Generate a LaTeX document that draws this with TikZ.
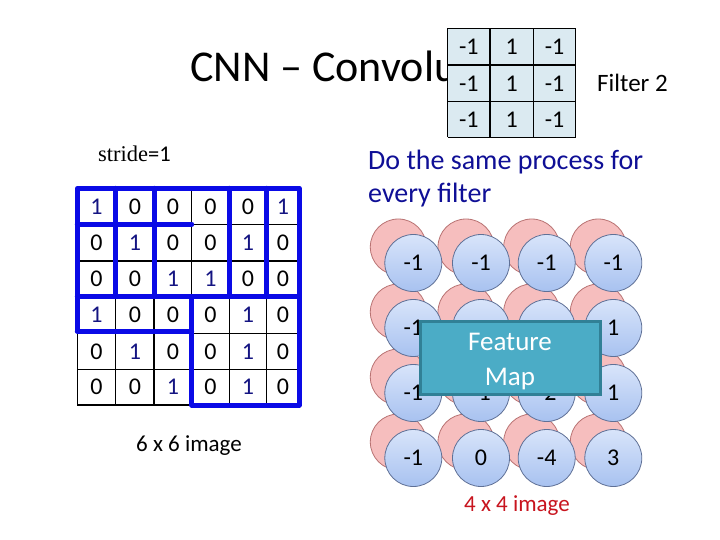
\documentclass[tikz,border=0pt]{standalone}
\usepackage{fontspec}
\setmainfont{Carlito}
\newfontfamily\serifface{Liberation Serif}
\definecolor{navyone}{RGB}{20,20,130}
\definecolor{barblue}{RGB}{10,10,230}
\definecolor{filterfill}{RGB}{219,234,241}
\definecolor{bluetop}{RGB}{216,228,250}
\definecolor{bluebot}{RGB}{168,194,240}
\definecolor{blueedge}{RGB}{95,112,150}
\definecolor{pinkfill}{RGB}{246,190,190}
\definecolor{pinkedge}{RGB}{185,115,115}
\definecolor{fmfill}{RGB}{75,172,198}
\definecolor{fmedge}{RGB}{49,128,150}
\definecolor{dotext}{RGB}{15,15,150}
\definecolor{redtext}{RGB}{200,20,30}
\tikzset{
  gridline/.style={black, line width=1.3pt},
  bluebar/.style={barblue, line width=5pt, line cap=round, line join=round},
  cellnum/.style={inner sep=0pt, font=\fontsize{24}{28}\selectfont},
  pinkcirc/.style={circle, minimum size=56pt, inner sep=0pt, fill=pinkfill, draw=pinkedge, line width=0.8pt},
  bluecirc/.style={circle, minimum size=57pt, inner sep=0pt, top color=bluetop, bottom color=bluebot, draw=blueedge, line width=0.8pt},
}
\begin{document}
\begin{tikzpicture}[x=1pt,y=-1pt]
\useasboundingbox (0,0) rectangle (720,540);
\fill[white] (0,0) rectangle (720,540);

% title
\node[anchor=base west, inner sep=0pt, font=\fontsize{44}{50}\selectfont] (title) at (190,82) {CNN – Convolu};

% filter
\fill[filterfill] (447.7,28.3) rectangle (575.7,137.3);
\foreach \x in {447.7,490,533.3,575.7} \draw[gridline] (\x,28.3) -- (\x,137.3);
\foreach \y in {28.3,65,101.7,137.3} \draw[gridline] (447.7,\y) -- (575.7,\y);
\foreach \y [count=\i] in {46.65,83.35,119.5} {
  \node[cellnum] (f\i1) at (468.85,\y) {-1};
  \node[cellnum] (f\i2) at (511.65,\y) {1};
  \node[cellnum] (f\i3) at (554.5,\y) {-1};
}
\node[anchor=base west, inner sep=0pt, font=\fontsize{25}{29}\selectfont] (filtername) at (597,91.5) {Filter 2};

% stride
\node[anchor=base west, inner sep=0pt, font=\fontsize{22.5}{26}\selectfont] (stride) at (98,162) {{\serifface stride}=1};

% 6x6 grid
\foreach \x in {77.3,115.7,154,191.7,229.3,266.7,299.3} \draw[gridline] (\x,188.3) -- (\x,405);
\foreach \y in {188.3,224.3,261,296.7,333.3,369.3,405} \draw[gridline] (77.3,\y) -- (299.3,\y);
\def\colc{{96.5,134.85,172.85,210.5,248,283}}
\def\rowc{{206.3,242.65,278.85,315,351.3,387.15}}
\foreach \vals [count=\i] in {{1,0,0,0,0,1},{0,1,0,0,1,0},{0,0,1,1,0,0},{1,0,0,0,1,0},{0,1,0,0,1,0},{0,0,1,0,1,0}} {
  \foreach \v [count=\j] in \vals {
    \pgfmathsetmacro\xx{\colc[\j-1]}
    \pgfmathsetmacro\yy{\rowc[\i-1]}
    \ifnum\v=1
      \node[cellnum, text=navyone] (g\i\j) at (\xx,\yy) {1};
    \else
      \node[cellnum] (g\i\j) at (\xx,\yy) {0};
    \fi
  }
}
% blue windows
\draw[bluebar] (77.3,331) -- (77.3,188.3) -- (299.3,188.3) -- (299.3,405) -- (191.7,405) -- (191.7,296.7);
\draw[bluebar] (77.3,331) -- (191.7,331);
\draw[bluebar] (77.3,224.3) -- (191.7,224.3);
\draw[bluebar] (77.3,296.7) -- (299.3,296.7);
\foreach \x in {115.7,154,229.3,266.7} \draw[bluebar] (\x,188.3) -- (\x,296.7);

\node[anchor=base, inner sep=0pt, font=\fontsize{23}{27}\selectfont] (sixlabel) at (189,451.5) {6 x 6 image};

% text right
\node[anchor=base west, inner sep=0pt, text=dotext, font=\fontsize{28}{33}\selectfont] (do1) at (368,170) {Do the same process for};
\node[anchor=base west, inner sep=0pt, text=dotext, font=\fontsize{28}{33}\selectfont] (do2) at (368,203) {every filter};

% circles
\foreach \cx [count=\j] in {413.3,481,546.7,613.3} {
  \foreach \cy [count=\i] in {263,328,393,458} {
    \node[pinkcirc] (p\i\j) at (\cx-15,\cy-16) {};
  }
}
\foreach \cx [count=\j] in {413.3,481,546.7,613.3} {
  \foreach \cy [count=\i] in {263,328,393,458} {
    \node[bluecirc] (b\i\j) at (\cx,\cy) {};
  }
}
\foreach \vals [count=\i] in {{-1,-1,-1,-1},{-1,{},{},1},{-1,-1,-2,1},{-1,0,-4,3}} {
  \foreach \v [count=\j] in \vals {
    \node[cellnum] (v\i\j) at (b\i\j) {\v};
  }
}

% feature map
\node[draw=fmedge, fill=fmfill, line width=3pt, minimum width=180pt, minimum height=73pt, inner sep=0pt] (fm) at (510,357.5) {};
\node[align=center, text=white, font=\fontsize{27}{35}\selectfont, inner sep=0pt] (fmtext) at (510,361.5) {Feature\\Map};

\node[anchor=base, inner sep=0pt, text=redtext, font=\fontsize{23}{27}\selectfont] (fourlabel) at (517,511.5) {4 x 4 image};
\end{tikzpicture}
\end{document}
